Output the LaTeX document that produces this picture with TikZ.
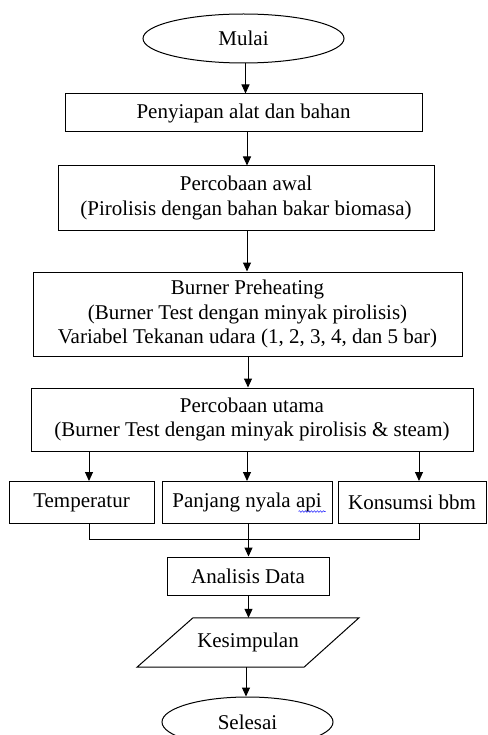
\documentclass[tikz,border=0pt]{standalone}
\usepackage{fontspec}
\setmainfont{Liberation Serif}
\usetikzlibrary{shapes.geometric,arrows.meta,calc,decorations.pathmorphing}
\begin{document}
\begin{tikzpicture}[x=1pt,y=-1pt,
  every node/.style={font=\fontsize{21}{24.5}\selectfont, inner sep=0pt, align=center},
  box/.style={draw, line width=1pt, rectangle},
  term/.style={draw, line width=1pt, ellipse},
  arr/.style={line width=1pt, -{Triangle[length=9pt,width=8pt]}},
  ln/.style={line width=1pt}]
\useasboundingbox (0,0) rectangle (487,735);
% nodes
\node[term, minimum width=201pt, minimum height=49pt] (start) at (243.5,38.5) {Mulai};
\node[box, minimum width=357pt, minimum height=38pt] (b1) at (243.5,113) {Penyiapan alat dan bahan};
\node[box, minimum width=376pt, minimum height=64pt] (b2) at (246,198) {Percobaan awal\\(Pirolisis dengan bahan bakar biomasa)};
\node[box, minimum width=429pt, minimum height=84pt] (b3) at (247.5,314) {Burner Preheating\\(Burner Test dengan minyak pirolisis)\\Variabel Tekanan udara (1, 2, 3, 4, dan 5 bar)};
\node[box, minimum width=442pt, minimum height=63pt] (b4) at (252,419.5) {Percobaan utama\\(Burner Test dengan minyak pirolisis \& steam)};
\node[box, minimum width=145pt, minimum height=42pt] (t1) at (81.5,502.5) {Temperatur};
\node[box, minimum width=170pt, minimum height=42pt] (t2) at (247,502.5) {Panjang nyala api};
\node[box, minimum width=148pt, minimum height=42pt] (t3) at (412,502.5) {Konsumsi bbm};
\node[box, minimum width=162pt, minimum height=38pt] (an) at (248,576) {Analisis Data};
\node[minimum width=110pt, minimum height=49pt] (kes) at (248,642.5) {Kesimpulan};
\draw[ln, line join=miter] ($(kes.north)+(-55,0)$) -- ($(kes.north)+(111,0)$) -- ($(kes.south)+(56,0)$) -- ($(kes.south)+(-111,0)$) -- cycle;
\node[term, minimum width=171pt, minimum height=50pt] (end) at (247.5,722) {Selesai};
% spellcheck underline under "api"
\draw[blue!80, line width=0.6pt, decorate, decoration={snake, amplitude=0.8pt, segment length=3pt}]
  ($(t2.east)+(-34,9)$) -- ($(t2.east)+(-7,9)$);
% column coordinates
\coordinate (x0) at (245.5,0);
\coordinate (x1) at (247,0);
\coordinate (x2) at (248,0);
\coordinate (xa) at (89,0);
\coordinate (xb) at (247,0);
\coordinate (xc) at (419,0);
\coordinate (xm) at (248.5,0);
\coordinate (xk) at (246,0);
\coordinate (bus) at (0,539);
% connectors
\draw[arr] (start.south -| x0) -- (b1.north -| x0);
\draw[arr] (b1.south -| x1) -- (b2.north -| x1);
\draw[arr] (b2.south -| x1) -- (b3.north -| x1);
\draw[arr] (b3.south -| x2) -- (b4.north -| x2);
\draw[arr] (b4.south -| xa) -- (t1.north -| xa);
\draw[arr] (b4.south -| xb) -- (t2.north -| xb);
\draw[arr] (b4.south -| xc) -- (t3.north -| xc);
\draw[ln] (t1.south -| xa) -- (bus -| xa) -- (bus -| xc) -- (t3.south -| xc);
\draw[ln] (t2.south -| xm) -- (bus -| xm);
\draw[arr] (bus -| xm) -- (an.north -| xm);
\draw[arr] (an.south -| xm) -- (kes.north -| xm);
\draw[arr] (kes.south -| xk) -- (end.north -| xk);
\end{tikzpicture}
\end{document}
